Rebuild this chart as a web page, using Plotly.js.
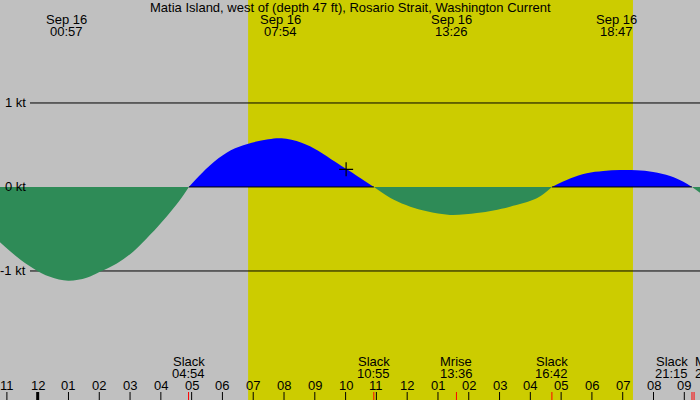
<!DOCTYPE html>
<html>
<head>
<meta charset="utf-8">
<script src="https://cdn.plot.ly/plotly-3.0.1.min.js"></script>
<style>html,body{margin:0;padding:0;background:#c0c0c0;}#chart{width:700px;height:400px;}</style>
</head>
<body>
<div id="chart"></div>
<script>
// ---- data ----
const chartTitle = "Matia Island, west of (depth 47 ft), Rosario Strait, Washington Current";
const hours = [-1.224, -0.68, -0.14, 0.40, 0.99, 1.59, 2.02, 2.57, 3.10, 3.65, 4.19, 4.62, 4.91,
               5.33, 5.87, 6.41, 6.95, 7.49, 7.92, 8.57, 9.11, 9.66, 10.04, 10.41, 10.92,
               11.55, 12.1, 12.64, 13.39, 14.26, 14.8, 15.34, 16.21, 16.7,
               17.29, 17.83, 18.37, 18.91, 19.45, 19.99, 20.54, 20.97, 21.25, 21.51];
const knots = [-0.658, -0.83, -0.97, -1.07, -1.116, -1.08, -1.01, -0.91, -0.77, -0.57, -0.35, -0.155, 0.0,
               0.163, 0.341, 0.46, 0.527, 0.567, 0.579, 0.527, 0.432, 0.30, 0.21, 0.123, 0.0,
               -0.15, -0.235, -0.29, -0.333, -0.31, -0.28, -0.235, -0.135, 0.0,
               0.10, 0.163, 0.19, 0.202, 0.199, 0.179, 0.131, 0.063, 0.0, -0.07];
const peakDates = ["Sep 16", "Sep 16", "Sep 16", "Sep 16"];
const peakTimes = ["00:57", "07:54", "13:26", "18:47"];
const eventNames = ["Slack", "Slack", "Mrise", "Slack", "Slack", "Mset"];
const eventTimes = ["04:54", "10:55", "13:36", "16:42", "21:15", "21:19"];
const tickLabels = ["11","12","01","02","03","04","05","06","07","08","09","10","11","12","01","02","03","04","05","06","07","08","09"];
const firstTickHour = -1;
const levelValues = [1, 0, -1];
const levelLabels = ["1 kt", "0 kt", "-1 kt"];
const sunrise = "06:50";
const sunset = "19:20";
const nowTime = "10:01";
const nowKnots = 0.21;

// ---- helpers ----
const toH = s => { const p = s.split(":"); return (+p[0]) + (+p[1]) / 60; };
const X0 = -1.224, X1 = 21.51;
const Y0 = -2.536, Y1 = 2.226;
const FONT = "Liberation Sans, Arial, sans-serif";
const txt = {family: FONT, size: 13, color: "#000"};
const FLOOD = "#0000ff", EBB = "#2e8b57";

// split into lobes by sign (zero points shared between neighbouring lobes)
const lobes = [];
let seg = {x: [], y: []}, sign = 0;
for (let i = 0; i < hours.length; i++) {
  const v = knots[i];
  const s = v > 0 ? 1 : (v < 0 ? -1 : 0);
  if (s === 0) {
    seg.x.push(hours[i]); seg.y.push(v);
    if (seg.x.length > 1) lobes.push({x: seg.x, y: seg.y, sign: sign});
    seg = {x: [hours[i]], y: [v]}; sign = 0;
    continue;
  }
  seg.x.push(hours[i]); seg.y.push(v); sign = s;
}
if (seg.x.length > 1) lobes.push({x: seg.x, y: seg.y, sign: sign});

const mk = t => ({
  type: "scatter", mode: "lines", x: t.x, y: t.y,
  line: {shape: "spline", smoothing: 1, width: 0, color: t.sign > 0 ? FLOOD : EBB},
  fill: "tozeroy", fillcolor: t.sign > 0 ? FLOOD : EBB,
  hoverinfo: "skip"
});
const data = lobes.map(mk);
// zero line only visible along flood lobes
lobes.filter(t => t.sign > 0).forEach(t => data.push({type: "scatter", mode: "lines",
  x: [t.x[0], t.x[t.x.length - 1]], y: [0, 0], line: {color: "#000", width: 1}, hoverinfo: "skip"}));
data.push({type: "scatter", mode: "markers", x: [toH(nowTime)], y: [nowKnots],
  marker: {symbol: "cross-thin", size: 10, line: {color: "#000", width: 1.2}}, hoverinfo: "skip"});

const shapes = [];
shapes.push({type: "rect", xref: "x", yref: "paper", x0: toH(sunrise), x1: toH(sunset), y0: 0, y1: 1,
  fillcolor: "#cccc00", line: {width: 0}, layer: "below"});
levelValues.filter(v => v !== 0).forEach(v => shapes.push({type: "line", xref: "x", yref: "y", x0: -0.25, x1: X1, y0: v, y1: v,
  line: {color: "#000", width: 1}, layer: "below"}));

const annotations = [];
annotations.push({xref: "paper", yref: "paper", x: 0.5, y: 0.981, text: chartTitle, showarrow: false,
  xanchor: "center", yanchor: "middle", font: txt});
peakTimes.forEach((pt, i) => {
  const h = toH(pt);
  annotations.push({xref: "x", yref: "paper", x: h, y: 0.951, text: peakDates[i], showarrow: false, xanchor: "center", yanchor: "middle", font: txt});
  annotations.push({xref: "x", yref: "paper", x: h, y: 0.922, text: pt, showarrow: false, xanchor: "center", yanchor: "middle", font: txt});
});
levelValues.forEach((v, i) => annotations.push({xref: "x", yref: "y", x: -0.305, y: v, text: levelLabels[i],
  showarrow: false, xanchor: "right", yanchor: "middle", font: txt}));

// hour ticks
tickLabels.forEach((lab, i) => {
  const h = firstTickHour + i;
  const mid = (h % 24) === 0;
  shapes.push({type: "line", xref: "x", yref: "paper", x0: h, x1: h, y0: 0, y1: 0.02,
    line: {color: "#000", width: mid ? 3 : 1}});
  annotations.push({xref: "x", yref: "paper", x: h, y: 0.036, text: lab, showarrow: false,
    xanchor: "center", yanchor: "middle", font: txt});
});
// events
eventNames.forEach((n, i) => {
  const h = toH(eventTimes[i]);
  shapes.push({type: "line", xref: "x", yref: "paper", x0: h, x1: h, y0: 0, y1: 0.02,
    line: {color: "#ff0000", width: 1}});
  let xa = "center", xx = h;
  if (i === eventNames.length - 2) { xa = "right"; xx = h - 0.05; }
  if (i === eventNames.length - 1) { xa = "left"; xx = h - 0.04; }
  annotations.push({xref: "x", yref: "paper", x: xx, y: 0.096, text: n, showarrow: false, xanchor: xa, yanchor: "middle", font: txt});
  annotations.push({xref: "x", yref: "paper", x: xx, y: 0.066, text: eventTimes[i], showarrow: false, xanchor: xa, yanchor: "middle", font: txt});
});

const layout = {
  width: 700, height: 400,
  margin: {l: 0, r: 0, t: 0, b: 0, pad: 0},
  paper_bgcolor: "#c0c0c0", plot_bgcolor: "#c0c0c0",
  showlegend: false,
  xaxis: {range: [X0, X1], visible: false, fixedrange: true},
  yaxis: {range: [Y0, Y1], visible: false, fixedrange: true},
  shapes: shapes, annotations: annotations
};
Plotly.newPlot("chart", data, layout, {staticPlot: true, displayModeBar: false});
</script>
</body>
</html>
